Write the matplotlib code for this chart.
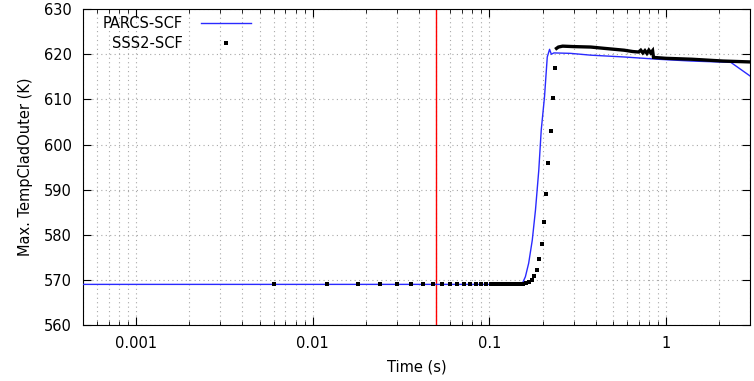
import matplotlib.pyplot as plt
from matplotlib.ticker import LogLocator, FixedLocator, NullFormatter

# PARCS-SCF curve
parcs_t = [0.0005, 0.150, 0.155, 0.160, 0.167, 0.175, 0.1825, 0.1905, 0.1967,
           0.2053, 0.2128, 0.2193, 0.2244, 0.2319, 0.2884, 0.375, 0.579, 0.897,
           1.387, 2.33, 3.04]
parcs_T = [569.0, 569.0, 569.5, 570.7, 573.7, 578.8, 585.5, 594.3, 603.2,
           610.6, 619.4, 621.1, 620.0, 620.3, 620.2, 619.8, 619.4, 618.9,
           618.5, 618.2, 615.0]

# SSS2-SCF points, sparse part
sss2_t = [0.006, 0.012, 0.018, 0.024, 0.030, 0.036, 0.042, 0.048, 0.054, 0.060,
          0.066, 0.072, 0.078, 0.084, 0.090, 0.096, 0.102, 0.108, 0.114, 0.120,
          0.126, 0.132, 0.138, 0.144, 0.150, 0.156, 0.162, 0.168, 0.174, 0.180,
          0.186, 0.192, 0.198, 0.204, 0.210, 0.216, 0.222, 0.228, 0.234]
sss2_T = [569.0, 569.0, 569.0, 569.0, 569.0, 569.0, 569.0, 569.0, 569.0, 569.0,
          569.0, 569.0, 569.0, 569.0, 569.0, 569.0, 569.0, 569.0, 569.0, 569.0,
          569.0, 569.0, 569.0, 569.0, 569.0, 569.1, 569.3, 569.6, 570.0, 570.9,
          572.2, 574.6, 578.0, 582.9, 589.0, 595.8, 603.0, 610.2, 617.0]

# SSS2-SCF dense tail (points so close they merge into a thick line)
tail_t = [0.240, 0.246, 0.26, 0.30, 0.375, 0.45, 0.58, 0.65, 0.70, 0.72, 0.74,
          0.76, 0.78, 0.80, 0.82, 0.84, 0.85, 1.0, 1.4, 2.1, 3.0]
tail_T = [621.3, 621.6, 621.8, 621.7, 621.6, 621.3, 620.9, 620.6, 620.5, 620.9,
          620.3, 620.8, 620.2, 620.9, 620.3, 620.8, 619.3, 619.1, 618.9, 618.5,
          618.3]

t_marker = 0.05

plt.rcParams['font.family'] = 'DejaVu Sans'
plt.rcParams['font.size'] = 10.5

fig = plt.figure(figsize=(7.54, 3.81), dpi=100)
ax = fig.add_axes([0.110, 0.147, 0.885, 0.829])

ax.axvline(t_marker, color='red', lw=1.0, zorder=2)
ax.plot(parcs_t, parcs_T, color='#2a2aff', lw=1.0, label='PARCS-SCF', zorder=3)
ax.plot(sss2_t, sss2_T, 's', color='black', ms=2.7, mew=0,
        ls='none', label='SSS2-SCF', zorder=4)
ax.plot(tail_t, tail_T, color='black', lw=2.4, solid_joinstyle='miter', zorder=4)

ax.set_xscale('log')
ax.set_xlim(0.0005, 3.0)
ax.set_ylim(560, 630)
ax.set_yticks(range(560, 631, 10))
ax.xaxis.set_major_locator(FixedLocator([0.001, 0.01, 0.1, 1]))
ax.set_xticklabels(['0.001', '0.01', '0.1', '1'])
ax.xaxis.set_minor_locator(LogLocator(base=10, subs=range(2, 10), numticks=20))
ax.xaxis.set_minor_formatter(NullFormatter())

ax.tick_params(which='both', direction='in', top=True, right=True)
ax.tick_params(which='major', length=6, pad=8)
ax.tick_params(which='minor', length=3)

ax.grid(True, which='both', axis='x', ls=(0, (1, 3)), color='#a8a8a8', lw=0.8)
ax.grid(True, which='major', axis='y', ls=(0, (1, 3)), color='#a8a8a8', lw=0.8)
ax.set_axisbelow(True)

ax.set_xlabel('Time (s)', labelpad=6)
ax.set_ylabel('Max. TempCladOuter (K)', labelpad=8)

ax.legend(loc='upper left', frameon=False, markerfirst=False, handlelength=3.4,
          handletextpad=1.3, labelspacing=0.3, numpoints=1,
          borderaxespad=0.1, bbox_to_anchor=(0.018, 1.0))

fig.savefig('out.png', dpi=100)
